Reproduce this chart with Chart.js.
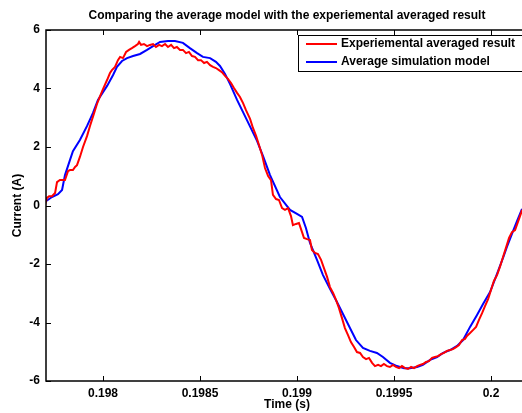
<!DOCTYPE html>
<html>
<head>
<meta charset="utf-8">
<script src="https://cdn.jsdelivr.net/npm/chart.js@4/dist/chart.umd.min.js"></script>
<style>
  html, body { margin: 0; padding: 0; background: #fff; overflow: hidden; width: 522px; height: 413px; }
  canvas { display: block; }
</style>
</head>
<body>
<canvas id="c" width="532" height="413"></canvas>
<script>
const chartTitle = "Comparing the average model with the experiemental averaged result";
const xLabel = "Time (s)";
const yLabel = "Current (A)";
const seriesNames = ["Experiemental averaged result", "Average simulation model"];
const xTickValues = [0.198, 0.1985, 0.199, 0.1995, 0.2];
const xTickLabels = ["0.198", "0.1985", "0.199", "0.1995", "0.2"];
const yTickValues = [-6, -4, -2, 0, 2, 4, 6];
const yTickLabels = ["-6", "-4", "-2", "0", "2", "4", "6"];
const xRange = [0.1977062, 0.2001907];
const yRange = [-6, 6];

// Experimental averaged result (red)
const expTime = [0.197701,0.197711,0.197722,0.197737,0.197753,0.197763,0.197778,0.197794,0.197804,0.197820,
0.197830,0.197845,0.197856,0.197866,0.197881,0.197897,0.197918,0.197933,0.197948,0.197969,
0.197985,0.198000,0.198021,0.198036,0.198046,0.198062,0.198077,0.198088,0.198103,0.198119,
0.198134,0.198149,0.198165,0.198180,0.198186,0.198196,0.198211,0.198227,0.198242,0.198258,
0.198273,0.198289,0.198304,0.198320,0.198335,0.198351,0.198366,0.198381,0.198397,0.198412,
0.198428,0.198443,0.198459,0.198474,0.198490,0.198505,0.198521,0.198536,0.198552,0.198567,
0.198582,0.198598,0.198613,0.198629,0.198644,0.198660,0.198675,0.198691,0.198706,0.198722,
0.198737,0.198758,0.198773,0.198789,0.198804,0.198820,0.198835,0.198851,0.198866,0.198876,
0.198892,0.198907,0.198923,0.198938,0.198954,0.198969,0.198979,0.198995,0.199010,0.199026,
0.199036,0.199052,0.199067,0.199077,0.199093,0.199108,0.199124,0.199139,0.199155,0.199170,
0.199186,0.199201,0.199216,0.199232,0.199247,0.199263,0.199278,0.199294,0.199309,0.199325,
0.199340,0.199356,0.199371,0.199387,0.199402,0.199418,0.199433,0.199448,0.199464,0.199479,
0.199495,0.199510,0.199526,0.199541,0.199557,0.199572,0.199588,0.199603,0.199619,0.199634,
0.199649,0.199665,0.199680,0.199696,0.199711,0.199727,0.199742,0.199758,0.199773,0.199789,
0.199804,0.199820,0.199835,0.199851,0.199866,0.199876,0.199892,0.199907,0.199923,0.199938,
0.199954,0.199969,0.199985,0.200000,0.200015,0.200031,0.200046,0.200062,0.200077,0.200093,
0.200108,0.200124,0.200139,0.200155,0.200160];
const expCurrent = [0.02,0.26,0.32,0.32,0.43,0.80,0.87,0.87,0.87,1.18,
1.21,1.21,1.32,1.38,1.66,2.00,2.38,2.72,3.03,3.47,
3.74,3.98,4.29,4.53,4.63,4.74,4.97,5.08,5.04,5.25,
5.32,5.38,5.45,5.52,5.59,5.49,5.52,5.45,5.49,5.52,
5.42,5.49,5.45,5.52,5.42,5.49,5.38,5.42,5.32,5.32,
5.21,5.25,5.11,5.08,4.97,4.97,4.87,4.91,4.80,4.74,
4.70,4.63,4.56,4.43,4.33,4.19,4.02,3.85,3.71,3.50,
3.26,2.96,2.65,2.38,2.07,1.73,1.28,1.01,0.87,0.36,
0.22,0.19,-0.09,-0.15,-0.09,-0.36,-0.67,-0.63,-0.60,-0.91,
-1.11,-1.15,-1.18,-1.52,-1.62,-1.66,-1.86,-2.14,-2.44,-2.79,
-2.99,-3.23,-3.50,-3.85,-4.19,-4.43,-4.67,-4.84,-5.01,-5.04,
-5.18,-5.25,-5.21,-5.38,-5.49,-5.45,-5.49,-5.42,-5.49,-5.52,
-5.45,-5.52,-5.56,-5.49,-5.56,-5.59,-5.52,-5.56,-5.49,-5.45,
-5.42,-5.35,-5.32,-5.21,-5.18,-5.15,-5.08,-5.04,-4.97,-4.94,
-4.91,-4.84,-4.77,-4.60,-4.56,-4.46,-4.36,-4.26,-4.15,-3.91,
-3.68,-3.44,-3.20,-2.89,-2.58,-2.38,-2.10,-1.76,-1.45,-1.11,
-0.91,-0.84,-0.56,-0.26,-0.15];

// Average simulation model (blue)
const simTime = [0.197706,0.197737,0.197768,0.197789,0.197804,0.197830,0.197845,0.197881,0.197918,0.197948,
0.197974,0.198021,0.198052,0.198072,0.198098,0.198124,0.198155,0.198191,0.198227,0.198258,
0.198294,0.198335,0.198371,0.198412,0.198448,0.198485,0.198515,0.198552,0.198582,0.198603,
0.198629,0.198655,0.198691,0.198742,0.198794,0.198825,0.198861,0.198912,0.198964,0.199000,
0.199026,0.199046,0.199067,0.199103,0.199134,0.199170,0.199206,0.199237,0.199273,0.199304,
0.199340,0.199376,0.199412,0.199443,0.199479,0.199515,0.199552,0.199582,0.199619,0.199649,
0.199686,0.199722,0.199753,0.199789,0.199825,0.199856,0.199892,0.199928,0.199959,0.199995,
0.200031,0.200062,0.200082,0.200108,0.200134,0.200160];
const simCurrent = [0.15,0.29,0.39,0.53,1.04,1.56,1.86,2.24,2.72,3.16,
3.61,4.09,4.46,4.74,4.94,5.04,5.11,5.18,5.32,5.45,
5.59,5.62,5.62,5.56,5.38,5.21,5.08,5.04,4.91,4.77,
4.50,4.15,3.61,2.92,2.21,1.69,1.04,0.29,-0.15,-0.29,
-0.39,-0.77,-1.28,-1.86,-2.38,-2.85,-3.30,-3.71,-4.19,-4.60,
-4.87,-4.97,-5.04,-5.18,-5.38,-5.49,-5.56,-5.56,-5.52,-5.45,
-5.28,-5.18,-5.04,-4.94,-4.80,-4.60,-4.15,-3.74,-3.37,-2.96,
-2.34,-1.79,-1.42,-0.97,-0.53,-0.12];

const FONT = '"Liberation Sans", Arial, Helvetica, sans-serif';
const toPts = (xs, ys) => xs.map((x, i) => ({ x: x, y: ys[i] }));

const decorPlugin = {
  id: 'decor',
  afterDraw(chart) {
    const ctx = chart.ctx;
    const a = chart.chartArea;
    const xs = chart.scales.x, ys = chart.scales.y;
    ctx.save();
    // frame
    ctx.strokeStyle = '#000';
    ctx.lineWidth = 1.5;
    ctx.strokeRect(a.left, a.top, a.right - a.left, a.bottom - a.top);
    // inward ticks
    ctx.lineWidth = 1;
    ctx.beginPath();
    xTickValues.forEach(v => {
      const px = Math.round(xs.getPixelForValue(v)) + 0.5;
      ctx.moveTo(px, a.bottom); ctx.lineTo(px, a.bottom - 5);
      ctx.moveTo(px, a.top); ctx.lineTo(px, a.top + 5);
    });
    yTickValues.forEach(v => {
      const py = Math.round(ys.getPixelForValue(v)) + 0.5;
      ctx.moveTo(a.left, py); ctx.lineTo(a.left + 5, py);
      ctx.moveTo(a.right, py); ctx.lineTo(a.right - 5, py);
    });
    ctx.stroke();
    // title
    ctx.fillStyle = '#000';
    ctx.font = 'bold 12px ' + FONT;
    ctx.textAlign = 'center';
    ctx.textBaseline = 'middle';
    ctx.fillText(chartTitle, (a.left + a.right) / 2, 16);
    // axis titles
    ctx.font = 'bold 12px ' + FONT;
    ctx.fillText(xLabel, (a.left + a.right) / 2, 405);
    ctx.save();
    ctx.translate(18, (a.top + a.bottom) / 2);
    ctx.rotate(-Math.PI / 2);
    ctx.fillText(yLabel, 0, 0);
    ctx.restore();
    // legend
    const lx = 298, ly = 35, lw = 240, lh = 36;
    ctx.fillStyle = '#fff';
    ctx.fillRect(lx, ly, lw, lh);
    ctx.strokeStyle = '#000';
    ctx.lineWidth = 1;
    ctx.strokeRect(lx + 0.5, ly + 0.5, lw, lh);
    const rows = [44, 62];
    chart.data.datasets.forEach((ds, i) => {
      ctx.strokeStyle = ds.borderColor;
      ctx.lineWidth = 2;
      ctx.beginPath();
      ctx.moveTo(306, rows[i]); ctx.lineTo(337, rows[i]);
      ctx.stroke();
      ctx.fillStyle = '#000';
      ctx.font = 'bold 12px ' + FONT;
      ctx.textAlign = 'left';
      ctx.textBaseline = 'middle';
      ctx.fillText(ds.label, 341, rows[i]);
    });
    ctx.restore();
  }
};

new Chart(document.getElementById('c'), {
  type: 'scatter',
  data: {
    datasets: [
      { label: seriesNames[0], data: toPts(expTime, expCurrent), showLine: true, borderColor: '#ff0000', backgroundColor: '#ff0000', borderWidth: 2, pointRadius: 0, tension: 0 },
      { label: seriesNames[1], data: toPts(simTime, simCurrent), showLine: true, borderColor: '#0000ff', backgroundColor: '#0000ff', borderWidth: 2, pointRadius: 0, tension: 0 }
    ]
  },
  options: {
    responsive: false,
    animation: false,
    devicePixelRatio: 1,
    layout: { padding: { left: 0, top: 30, right: 4, bottom: 0 } },
    plugins: { legend: { display: false }, title: { display: false }, tooltip: { enabled: false } },
    scales: {
      x: {
        type: 'linear', min: xRange[0], max: xRange[1],
        grid: { display: false, drawTicks: false },
        border: { display: false },
        afterBuildTicks: s => { s.ticks = xTickValues.map(v => ({ value: v })); },
        afterFit: s => { s.height = 32; },
        ticks: {
          autoSkip: false, maxRotation: 0, padding: 5, color: '#000',
          font: { family: FONT, size: 12, weight: 'bold' },
          callback: (v) => { const i = xTickValues.indexOf(v); return i >= 0 ? xTickLabels[i] : ''; }
        }
      },
      y: {
        type: 'linear', min: yRange[0], max: yRange[1],
        grid: { display: false, drawTicks: false },
        border: { display: false },
        afterBuildTicks: s => { s.ticks = yTickValues.map(v => ({ value: v })); },
        afterFit: s => { s.width = 46; },
        ticks: {
          autoSkip: false, padding: 6, color: '#000',
          font: { family: FONT, size: 12, weight: 'bold' },
          callback: (v) => { const i = yTickValues.indexOf(v); return i >= 0 ? yTickLabels[i] : ''; }
        }
      }
    }
  },
  plugins: [decorPlugin]
});
</script>
</body>
</html>
